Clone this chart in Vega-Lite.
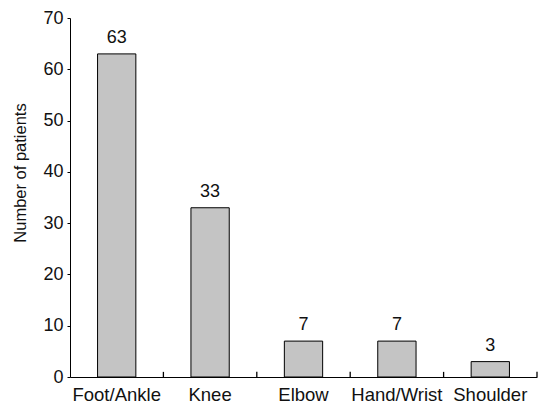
{
  "$schema": "https://vega.github.io/schema/vega-lite/v6.json",
  "width": 467,
  "height": 359,
  "autosize": "none",
  "padding": {"left": 70, "top": 18, "right": 3, "bottom": 28},
  "background": "white",
  "config": {
    "view": {"stroke": null},
    "font": "Liberation Sans",
    "axis": {"grid": false, "domainColor": "#000", "tickColor": "#000", "labelColor": "#111", "titleColor": "#111", "labelFont": "Liberation Sans", "titleFont": "Liberation Sans"}
  },
  "data": {
    "values": [
      {"site": "Foot/Ankle", "patients": 63},
      {"site": "Knee", "patients": 33},
      {"site": "Elbow", "patients": 7},
      {"site": "Hand/Wrist", "patients": 7},
      {"site": "Shoulder", "patients": 3}
    ]
  },
  "layer": [
    {
      "mark": {"type": "bar", "fill": "#c4c4c4", "stroke": "#000", "strokeWidth": 1},
      "encoding": {
        "x": {
          "field": "site",
          "type": "nominal",
          "sort": null,
          "scale": {"paddingInner": 0.59, "paddingOuter": 0.295},
          "axis": {
            "title": null,
            "labelAngle": 0,
            "labelFontSize": 18.5,
            "ticks": false,
            "labelPadding": 8,
            "domain": true
          }
        },
        "y": {
          "field": "patients",
          "type": "quantitative",
          "scale": {"domain": [0, 70], "nice": false},
          "axis": {
            "values": [0, 10, 20, 30, 40, 50, 60, 70],
            "title": "Number of patients",
            "titleFontSize": 16.5,
            "titleFontWeight": "normal",
            "titleAngle": -90,
            "titleX": -45,
            "titleY": 154.5,
            "titleAlign": "center",
            "titleBaseline": "alphabetic",
            "labelFontSize": 18,
            "tickSize": 3,
            "labelPadding": 4
          }
        }
      }
    },
    {
      "mark": {"type": "text", "fontSize": 18, "baseline": "alphabetic", "dy": -11, "color": "#111"},
      "encoding": {
        "x": {"field": "site", "type": "nominal", "sort": null},
        "y": {"field": "patients", "type": "quantitative"},
        "text": {"field": "patients", "type": "quantitative"}
      }
    },
    {
      "mark": {"type": "rule", "color": "#000", "strokeWidth": 1.3, "xOffset": 46.7},
      "encoding": {
        "x": {"field": "site", "type": "nominal", "sort": null},
        "y": {"datum": 0},
        "y2": {"datum": 1}
      }
    }
  ]
}
